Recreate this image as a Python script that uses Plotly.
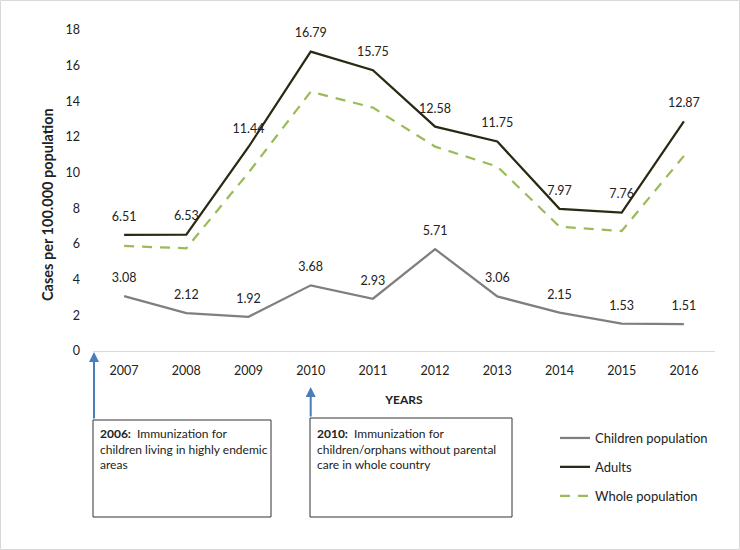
import plotly.graph_objects as go

years = ["2007", "2008", "2009", "2010", "2011", "2012", "2013", "2014", "2015", "2016"]
children = [3.08, 2.12, 1.92, 3.68, 2.93, 5.71, 3.06, 2.15, 1.53, 1.51]
adults = [6.51, 6.53, 11.44, 16.79, 15.75, 12.58, 11.75, 7.97, 7.76, 12.87]
whole = [5.89, 5.76, 10.0, 14.54, 13.65, 11.46, 10.34, 6.97, 6.73, 10.94]
y_ticks = [0, 2, 4, 6, 8, 10, 12, 14, 16, 18]

FONT = "Lato"
W, H = 740, 550
L, R, T, B = 93, 25, 30, 199
PW, PH = W - L - R, H - T - B

def px(x):
    return (x - L) / PW

def py(y):
    return (H - B - y) / PH

clear_marker = dict(size=16, color="rgba(0,0,0,0)")

fig = go.Figure()
fig.add_trace(go.Scatter(
    x=years, y=children, name="Children population", mode="lines+markers+text",
    legendgroup="c", marker=clear_marker,
    line=dict(color="#7f7f7f", width=2.25),
    text=[f"{v:.2f}" for v in children], textposition="top center",
    textfont=dict(family=FONT, size=12.5, color="#222222"), cliponaxis=False))
fig.add_trace(go.Scatter(
    x=years, y=adults, name="Adults", mode="lines+markers+text",
    legendgroup="a", marker=clear_marker,
    line=dict(color="#2a2a14", width=2.25),
    text=[f"{v:.2f}" for v in adults], textposition="top center",
    textfont=dict(family=FONT, size=12.5, color="#222222"), cliponaxis=False))
fig.add_trace(go.Scatter(
    x=years, y=whole, name="Whole population", mode="lines",
    legendgroup="w",
    line=dict(color="#9bbb59", width=2.25, dash="10px,8px")))

fig.update_layout(
    width=W, height=H,
    margin=dict(l=L, r=R, t=T, b=B),
    paper_bgcolor="white", plot_bgcolor="white",
    font=dict(family=FONT, size=12, color="#222222"),
    showlegend=True,
    legend=dict(x=px(555), y=py(423), xanchor="left", yanchor="top",
                font=dict(family=FONT, size=13, color="#222222"),
                traceorder="grouped", tracegroupgap=9,
                itemwidth=30, bgcolor="rgba(0,0,0,0)"),
    xaxis=dict(type="category", range=[-0.5, len(years) - 0.5],
               showgrid=False, showline=True,
               linecolor="#d9d9d9", linewidth=1, zeroline=False,
               ticks="", ticklabelstandoff=8,
               tickfont=dict(family=FONT, size=12.5, color="#222222"),
               title=dict(text="<b>YEARS</b>", standoff=18,
                          font=dict(family=FONT, size=12, color="#222222"))),
    yaxis=dict(range=[0, 18], tickvals=y_ticks, showgrid=False,
               showline=False, zeroline=False, ticks="",
               ticklabelstandoff=12,
               tickfont=dict(family=FONT, size=12.5, color="#222222")),
)

# y-axis title
fig.add_annotation(xref="paper", yref="paper", x=px(48), y=py(205),
                   xanchor="center", yanchor="middle", showarrow=False,
                   textangle=-90, text="<b>Cases per 100.000 population</b>",
                   font=dict(family=FONT, size=14.5, color="#222222"))

# boxes
boxes = [(93, 420, 271, 517), (310, 418, 512, 517)]
for x0, y0, x1, y1 in boxes:
    fig.add_shape(type="rect", xref="paper", yref="paper",
                  x0=px(x0), x1=px(x1), y0=py(y0), y1=py(y1),
                  line=dict(color="#333333", width=1), fillcolor="white")

fig.add_annotation(xref="paper", yref="paper", x=px(98), y=py(424),
                   xanchor="left", yanchor="top", align="left", showarrow=False,
                   text="<b>2006:</b>  Immunization for<br>children living in highly endemic<br>areas",
                   font=dict(family=FONT, size=12, color="#222222"))
fig.add_annotation(xref="paper", yref="paper", x=px(315), y=py(424),
                   xanchor="left", yanchor="top", align="left", showarrow=False,
                   text="<b>2010:</b>  Immunization for<br>children/orphans without parental<br>care in whole country",
                   font=dict(family=FONT, size=12, color="#222222"))

# arrows
fig.add_annotation(xref="paper", yref="paper", x=px(94), y=py(352),
                   ax=0, ay=420 - 352, showarrow=True, arrowhead=2,
                   arrowsize=1, arrowwidth=2, arrowcolor="#4a7ebb", text="")
fig.add_annotation(xref="x", yref="paper", x=years.index("2010"), y=py(387),
                   ax=0, ay=418 - 387, showarrow=True, arrowhead=2,
                   arrowsize=1, arrowwidth=2, arrowcolor="#4a7ebb", text="")

# outer border
fig.add_shape(type="rect", xref="paper", yref="paper",
              x0=px(0.5), x1=px(W - 0.5), y0=py(0.5), y1=py(H - 0.5),
              line=dict(color="#d9d9d9", width=1))

fig.write_html("out.html", config={"displayModeBar": False},
               post_script="document.body.style.margin='0';")
